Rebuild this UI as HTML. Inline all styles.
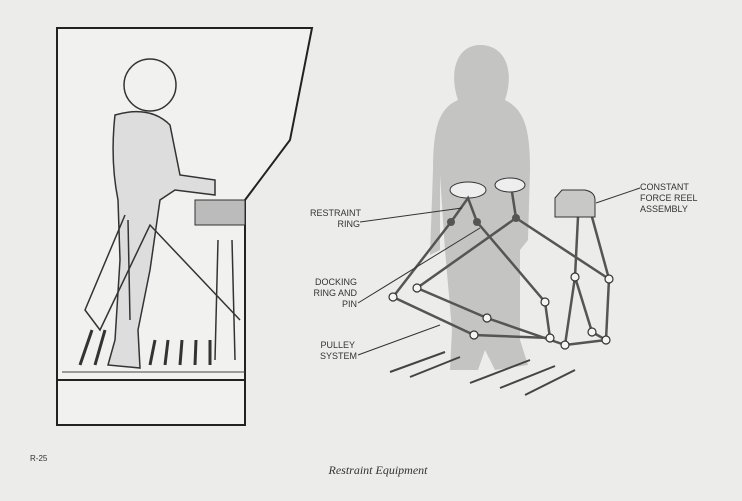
<!DOCTYPE html>
<html><head><style>
html,body{margin:0;padding:0;background:#ececea;}
svg{display:block}
text{font-family:"Liberation Sans",sans-serif;font-size:9px;fill:#333}
</style></head><body>
<svg width="742" height="501" viewBox="0 0 742 501">
<rect width="742" height="501" fill="#ececea"/>
<!-- left cabinet -->
<path d="M57,28 H312 L290,140 L245,200 V425 H57 Z" fill="#f1f1ef" stroke="#222" stroke-width="2"/>
<line x1="57" y1="380" x2="245" y2="380" stroke="#222" stroke-width="2"/>
<line x1="62" y1="372" x2="245" y2="372" stroke="#444" stroke-width="1"/>
<g stroke="#333" stroke-width="3">
<line x1="80" y1="365" x2="92" y2="330"/><line x1="95" y1="365" x2="105" y2="330"/><line x1="150" y1="365" x2="155" y2="340"/><line x1="165" y1="365" x2="168" y2="340"/><line x1="180" y1="365" x2="182" y2="340"/><line x1="195" y1="365" x2="196" y2="340"/><line x1="210" y1="365" x2="210" y2="340"/>
</g>
<!-- astronaut rough -->
<circle cx="150" cy="85" r="26" fill="none" stroke="#333" stroke-width="1.5"/>
<path d="M115,115 Q110,160 118,200 L120,260 L115,340 L108,365 L140,368 L138,330 L150,270 L160,200 L175,190 L215,195 L215,180 L180,175 L170,125 Q150,105 115,115Z" fill="#ddd" stroke="#333" stroke-width="1.5"/>
<path d="M195,200 H245 V225 H195 Z" fill="#bbb" stroke="#333"/>
<g stroke="#333" stroke-width="1.5" fill="none">
<path d="M125,215 L85,310 L100,330 L150,225 L240,320"/><path d="M128,220 L130,320"/><line x1="218" y1="240" x2="215" y2="360"/><line x1="232" y1="240" x2="235" y2="360"/>
</g>
<!-- silhouette -->
<path d="M480,45 C505,45 515,70 505,100 C525,110 530,130 530,170 L528,240 L520,250 L520,340 L528,365 L495,370 L485,350 L478,370 L450,370 L452,330 L445,250 L440,175 L440,250 L430,255 L433,170 C433,125 440,108 458,100 C448,70 458,45 480,45Z" fill="#c4c4c2"/>
<!-- floor slats -->
<g stroke="#444" stroke-width="2">
<line x1="390" y1="372" x2="445" y2="352"/><line x1="410" y1="377" x2="460" y2="357"/><line x1="470" y1="383" x2="530" y2="360"/><line x1="500" y1="388" x2="555" y2="366"/><line x1="525" y1="395" x2="575" y2="370"/>
</g>
<!-- seat pads -->
<ellipse cx="468" cy="190" rx="18" ry="8" fill="#eee" stroke="#333"/>
<ellipse cx="510" cy="185" rx="15" ry="7" fill="#eee" stroke="#333"/>
<!-- cables -->
<g stroke="#555" stroke-width="2.5" fill="none">
<path d="M451,222 L393,297 L474,335 L550,338"/>
<path d="M516,218 L417,288 L487,318 L565,345"/>
<path d="M477,222 L545,302 L550,338"/>
<path d="M516,218 L609,279 L606,340 L592,332 L575,277 L578,217"/>
<path d="M565,345 L606,340 M592,217 L609,279 M575,277 L565,345"/>
<path d="M451,222 L468,198 L477,222 M516,218 L512,192"/>
</g>
<g fill="#555"><circle cx="451" cy="222" r="4"/><circle cx="477" cy="222" r="4"/><circle cx="516" cy="218" r="4"/></g>
<g fill="#f5f5f5" stroke="#333" stroke-width="1.2">
<circle cx="393" cy="297" r="4"/><circle cx="417" cy="288" r="4"/><circle cx="487" cy="318" r="4"/><circle cx="545" cy="302" r="4"/><circle cx="474" cy="335" r="4"/><circle cx="550" cy="338" r="4"/><circle cx="565" cy="345" r="4"/><circle cx="575" cy="277" r="4"/><circle cx="609" cy="279" r="4"/><circle cx="592" cy="332" r="4"/><circle cx="606" cy="340" r="4"/>
</g>
<path d="M555,198 L562,190 H585 Q595,192 595,200 V217 H555 Z" fill="#c8c8c6" stroke="#333"/>
<!-- leader lines -->
<g stroke="#333" stroke-width="1" fill="none">
<line x1="360" y1="222" x2="462" y2="208"/><line x1="358" y1="303" x2="480" y2="228"/><line x1="358" y1="355" x2="440" y2="325"/><line x1="640" y1="188" x2="596" y2="203"/>
</g>
<text x="361" y="216" text-anchor="end">RESTRAINT</text><text x="360" y="227" text-anchor="end">RING</text>
<text x="357" y="285" text-anchor="end">DOCKING</text><text x="357" y="296" text-anchor="end">RING AND</text><text x="357" y="307" text-anchor="end">PIN</text>
<text x="355" y="348" text-anchor="end">PULLEY</text><text x="357" y="359" text-anchor="end">SYSTEM</text>
<text x="640" y="190">CONSTANT</text><text x="640" y="201">FORCE REEL</text><text x="640" y="212">ASSEMBLY</text>
<text x="30" y="461" style="font-size:8px">R-25</text>
<text x="378" y="474" text-anchor="middle" style="font-family:'Liberation Serif',serif;font-style:italic;font-size:12px">Restraint Equipment</text>
</svg>
</body></html>
